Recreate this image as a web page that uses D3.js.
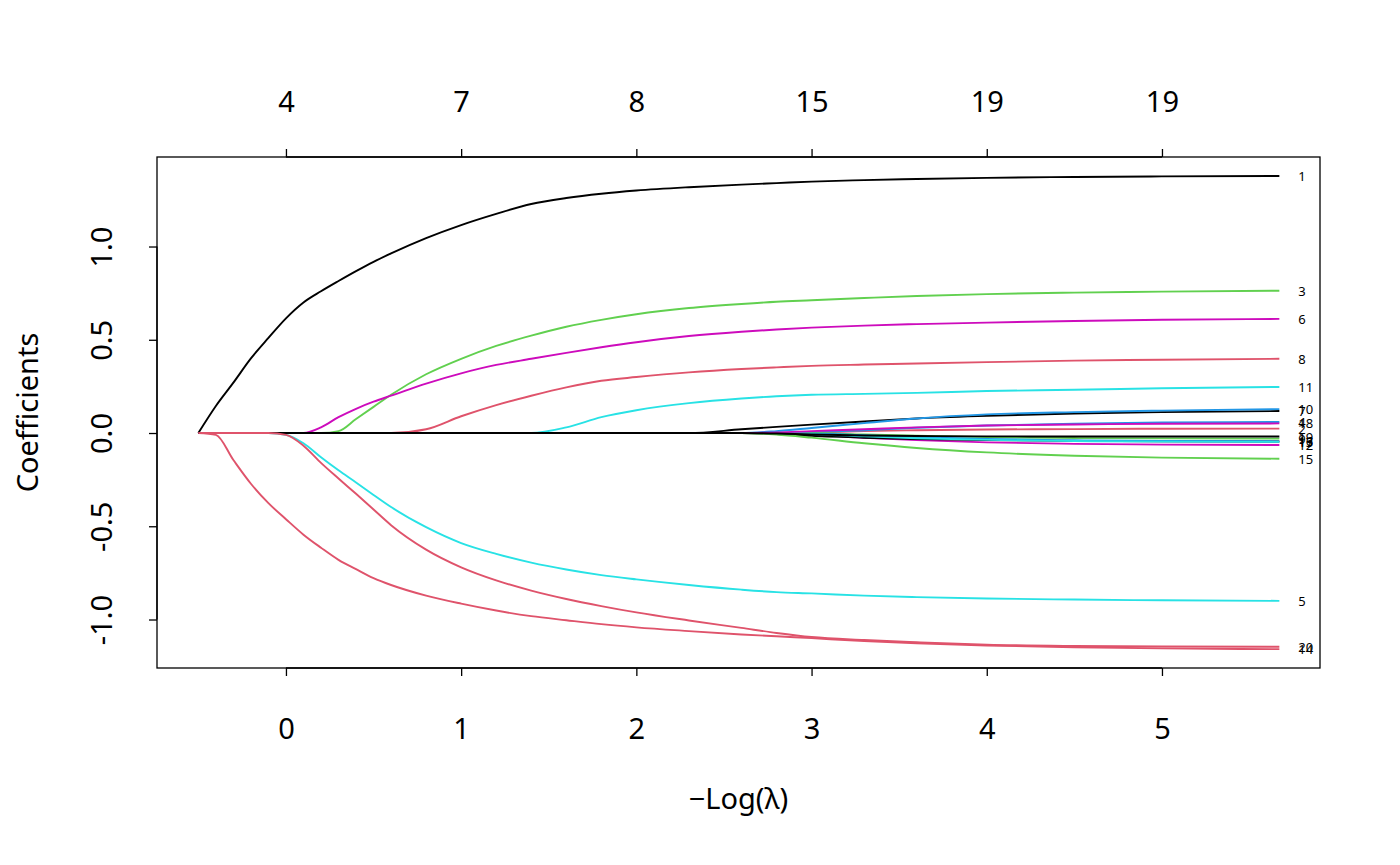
<!DOCTYPE html>
<html>
<head>
<meta charset="utf-8">
<script src="https://cdn.jsdelivr.net/npm/d3@7"></script>
<style>
  html, body { margin: 0; padding: 0; background: #fff; }
  svg text { font-family: "Noto Sans", "Open Sans", "DejaVu Sans", sans-serif; }
</style>
</head>
<body>
<svg id="chart" width="1400" height="865"></svg>
<script>
// -log(lambda) grid
const negLogLambda = [-0.5,-0.4,-0.3,-0.2,-0.1,0,0.1,0.2,0.3,0.4,0.5,0.6,0.8,1.0,1.2,1.4,1.6,1.8,2.0,2.3,2.6,2.8,3.0,3.3,3.6,4.0,4.5,5.0,5.67];

// coefficient paths, one array per variable (values on the grid above)
const V1  = [0,0.145,0.27,0.40,0.51,0.615,0.70,0.76,0.815,0.868,0.918,0.963,1.045,1.115,1.175,1.228,1.26,1.283,1.30,1.318,1.332,1.34,1.348,1.356,1.362,1.368,1.373,1.376,1.378];
const V2  = [0,0,0,0,0,0,0,0,0,0,0,0,0,0,0,0,0,0,0,0,0,0,0.003,0.01,0.015,0.019,0.021,0.023,0.0237];
const V3  = [0,0,0,0,0,0,0,0,0.01,0.075,0.14,0.205,0.315,0.398,0.467,0.522,0.57,0.607,0.637,0.67,0.692,0.704,0.712,0.724,0.735,0.745,0.753,0.758,0.763];
const V4  = [0,0,0,0,0,0,0,0,0,0,0,0,0,0,0,0,0,0,0,0,0,0,0.004,0.015,0.028,0.04,0.05,0.056,0.0594];
const V5  = [0,0,0,0,0,-0.01,-0.055,-0.13,-0.20,-0.265,-0.332,-0.397,-0.505,-0.59,-0.648,-0.695,-0.732,-0.762,-0.785,-0.815,-0.84,-0.853,-0.86,-0.872,-0.88,-0.887,-0.893,-0.897,-0.90];
const V6  = [0,0,0,0,0,0,0,0.03,0.085,0.13,0.168,0.20,0.265,0.32,0.365,0.398,0.43,0.46,0.487,0.52,0.543,0.555,0.565,0.576,0.584,0.592,0.601,0.607,0.612];
const V7  = [0,0,0,0,0,0,0,0,0,0,0,0,0,0,0,0,0,0,0,0,0.02,0.033,0.045,0.062,0.078,0.092,0.105,0.112,0.118];
const V8  = [0,0,0,0,0,0,0,0,0,0,0,0,0.02,0.09,0.15,0.20,0.245,0.28,0.30,0.325,0.343,0.352,0.36,0.367,0.373,0.38,0.388,0.393,0.398];
const V9  = [0,0,0,0,0,0,0,0,0,0,0,0,0,0,0,0,0,0,0,0,0,0,0,-0.008,-0.015,-0.022,-0.027,-0.029,-0.0303];
const V10 = [0,0,0,0,0,0,0,0,0,0,0,0,0,0,0,0,0,0,0,0,0,0.01,0.027,0.053,0.078,0.10,0.112,0.12,0.128];
const V11 = [0,0,0,0,0,0,0,0,0,0,0,0,0,0,0,0,0.03,0.085,0.122,0.16,0.185,0.197,0.205,0.21,0.215,0.225,0.232,0.24,0.247];
const V12 = [0,0,0,0,0,0,0,0,0,0,0,0,0,0,0,0,0,0,0,0,0,0,-0.008,-0.025,-0.038,-0.05,-0.058,-0.062,-0.0646];
const V13 = [0,0,0,0,0,0,0,0,0,0,0,0,0,0,0,0,0,0,0,0,0,-0.005,-0.015,-0.025,-0.032,-0.038,-0.042,-0.044,-0.0457];
const V14 = [0,-0.01,-0.145,-0.272,-0.376,-0.462,-0.545,-0.615,-0.68,-0.73,-0.778,-0.815,-0.872,-0.915,-0.952,-0.982,-1.004,-1.025,-1.042,-1.062,-1.08,-1.09,-1.10,-1.115,-1.127,-1.139,-1.149,-1.155,-1.159];
const V15 = [0,0,0,0,0,0,0,0,0,0,0,0,0,0,0,0,0,0,0,0,0,-0.008,-0.025,-0.055,-0.08,-0.104,-0.122,-0.132,-0.138];
const V16 = [0,0,0,0,0,0,0,0,0,0,0,0,0,0,0,0,0,0,0,0,0,0,-0.003,-0.012,-0.022,-0.032,-0.039,-0.043,-0.0446];
const V17 = [0,0,0,0,0,0,0,0,0,0,0,0,0,0,0,0,0,0,0,0,0,0,-0.005,-0.018,-0.028,-0.037,-0.043,-0.046,-0.0477];
const V18 = [0,0,0,0,0,0,0,0,0,0,0,0,0,0,0,0,0,0,0,0,0,0.003,0.01,0.02,0.03,0.04,0.046,0.05,0.0515];
const V19 = [0,0,0,0,0,0,0,0,0,0,0,0,0,0,0,0,0,0,0,0,0,-0.003,-0.008,-0.013,-0.016,-0.018,-0.0185,-0.0187,-0.0187];
const V20 = [0,0,0,0,0,-0.01,-0.068,-0.16,-0.244,-0.326,-0.41,-0.494,-0.625,-0.72,-0.79,-0.845,-0.89,-0.928,-0.962,-1.005,-1.045,-1.072,-1.094,-1.11,-1.122,-1.135,-1.142,-1.145,-1.146];

const coefPaths = [V1,V2,V3,V4,V5,V6,V7,V8,V9,V10,V11,V12,V13,V14,V15,V16,V17,V18,V19,V20];
const varLabels = d3.range(1, 21).map(String);

// R palette (matplot default col = 1:6, recycled)
const palette = ["#000000","#DF536B","#61D04F","#2297E6","#28E2E5","#CD0BBC"];

// axes
const xTicks = [0,1,2,3,4,5];
const yTicks = [-1.0,-0.5,0.0,0.5,1.0];
const dfTickLabels = ["4","7","8","15","19","19"];
const xDomain = [-0.736, 5.902];
const yDomain = [-1.26, 1.48];

const svg = d3.select("#chart");
const box = {left: 157, right: 1320, top: 157, bottom: 668};
const FS = 29;

const xScale = d3.scaleLinear().domain(xDomain).range([box.left, box.right]);
const yScale = d3.scaleLinear().domain(yDomain).range([box.bottom, box.top]);

const lineGen = d3.line()
  .x(d => xScale(d[0]))
  .y(d => yScale(d[1]))
  .curve(d3.curveMonotoneX);

svg.append("defs").append("clipPath").attr("id", "clip")
  .append("rect").attr("x", box.left).attr("y", box.top)
  .attr("width", box.right - box.left).attr("height", box.bottom - box.top);

const gLines = svg.append("g").attr("clip-path", "url(#clip)");
coefPaths.forEach((vals, i) => {
  const pts = negLogLambda.map((lx, j) => [lx, vals[j]]);
  gLines.append("path")
    .attr("d", lineGen(pts))
    .attr("fill", "none")
    .attr("stroke", palette[i % 6])
    .attr("stroke-width", 1.9)
    .attr("stroke-linejoin", "round");
});

// box
svg.append("rect")
  .attr("x", box.left).attr("y", box.top)
  .attr("width", box.right - box.left).attr("height", box.bottom - box.top)
  .attr("fill", "none").attr("stroke", "#000").attr("stroke-width", 1.3);

// bottom axis
const axB = svg.append("g").attr("transform", `translate(0,${box.bottom})`)
  .call(d3.axisBottom(xScale).tickValues(xTicks).tickFormat(d3.format("d")).tickSizeOuter(0).tickSize(8));
axB.select(".domain").attr("d", `M${xScale(0)},0H${xScale(5)}`).attr("stroke-width", 1.3);
axB.selectAll(".tick line").attr("stroke-width", 1.3);
axB.selectAll("text").attr("font-size", FS).attr("fill", "#000")
  .attr("y", 727 - box.bottom).attr("dy", null).attr("dominant-baseline", "central");

// top axis (degrees of freedom)
const axT = svg.append("g").attr("transform", `translate(0,${box.top})`)
  .call(d3.axisTop(xScale).tickValues(xTicks).tickFormat((d, i) => dfTickLabels[i]).tickSizeOuter(0).tickSize(8));
axT.select(".domain").attr("d", `M${xScale(0)},0H${xScale(5)}`).attr("stroke-width", 1.3);
axT.selectAll(".tick line").attr("stroke-width", 1.3);
axT.selectAll("text").attr("font-size", FS).attr("fill", "#000")
  .attr("y", 100 - box.top).attr("dy", null).attr("dominant-baseline", "central");

// left axis
const axL = svg.append("g").attr("transform", `translate(${box.left},0)`)
  .call(d3.axisLeft(yScale).tickValues(yTicks).tickFormat(d => d3.format(".1f")(d).replace("\u2212", "-")).tickSizeOuter(0).tickSize(8));
axL.select(".domain").attr("d", `M0,${yScale(-1)}V${yScale(1)}`).attr("stroke-width", 1.3);
axL.selectAll(".tick line").attr("stroke-width", 1.3);
axL.selectAll("text")
  .attr("font-size", FS).attr("fill", "#000")
  .attr("x", null).attr("dy", null)
  .attr("text-anchor", "middle")
  .attr("dominant-baseline", "central")
  .attr("transform", `translate(${100 - box.left},0) rotate(-90)`);

// variable labels at right end
const lastX = negLogLambda[negLogLambda.length - 1];
coefPaths.forEach((vals, i) => {
  svg.append("text")
    .attr("x", xScale(lastX) + 19)
    .attr("y", yScale(vals[vals.length - 1]))
    .attr("dominant-baseline", "central")
    .attr("font-size", 13)
    .attr("fill", "#000")
    .text(varLabels[i]);
});

// axis titles
svg.append("text")
  .attr("x", (box.left + box.right) / 2).attr("y", 797)
  .attr("text-anchor", "middle").attr("dominant-baseline", "central")
  .attr("font-size", FS).attr("fill", "#000")
  .text("\u2212Log(\u03BB)");

svg.append("text")
  .attr("transform", `translate(26,${(box.top + box.bottom) / 2}) rotate(-90)`)
  .attr("text-anchor", "middle").attr("dominant-baseline", "central")
  .attr("font-size", FS).attr("fill", "#000")
  .text("Coefficients");
</script>
</body>
</html>
